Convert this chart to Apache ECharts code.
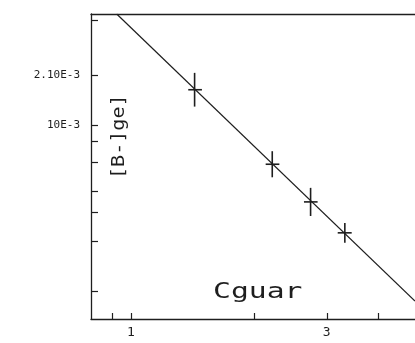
<!DOCTYPE html>
<html>
<head>
<meta charset="utf-8">
<script src="https://cdn.jsdelivr.net/npm/echarts@6/dist/echarts.min.js"></script>
<style>
  html, body { margin: 0; padding: 0; background: #fff; }
  #chart { width: 415px; height: 343px; }
</style>
</head>
<body>
<div id="chart"></div>
<script>
// measured points (Cguar vs [B-]ge)
const cguar = [1.43, 2.21, 2.74, 3.32];
const bge = [1.63e-3, 0.58e-3, 0.344e-3, 0.224e-3];
const cguarLow = [1.38, 2.13, 2.64, 3.19];
const cguarHigh = [1.49, 2.30, 2.85, 3.45];
const bgeLow = [1.29e-3, 0.484e-3, 0.283e-3, 0.195e-3];
const bgeHigh = [2.06e-3, 0.695e-3, 0.418e-3, 0.257e-3];

// fitted line end points
const fitX = [0.924, 4.92];
const fitY = [4.66e-3, 0.087e-3];

// ticks and labels
const xTicks = [0.9, 1, 2, 3, 4];
const xLabels = [1, 3];
const yTicks = [4.3e-3, 2e-3, 1e-3, 0.8e-3, 0.6e-3, 0.4e-3, 0.3e-3, 0.2e-3, 0.1e-3];
const yLabelValues = [2e-3, 1e-3];
const yLabelText = ['2.10E-3', '10E-3'];

const INK = '#1e1e1e';
const FONT = '"DejaVu Sans Mono", monospace';

const chart = echarts.init(document.getElementById('chart'), null, { renderer: 'canvas' });

const crossData = cguar.map(function (x, i) {
    return [x, bge[i], cguarLow[i], cguarHigh[i], bgeLow[i], bgeHigh[i]];
});

chart.setOption({
    animation: false,
    backgroundColor: '#fff',
    grid: { left: 91, top: 14, right: 0, bottom: 24 },
    xAxis: [{
        type: 'log',
        min: 0.8, max: 4.92,
        axisLine: { show: true, lineStyle: { color: INK, width: 1.3 } },
        axisTick: { show: true, inside: true, length: 6, customValues: xTicks, lineStyle: { color: INK, width: 1.2 } },
        minorTick: { show: false },
        splitLine: { show: false },
        axisLabel: {
            customValues: xLabels,
            color: INK, fontFamily: FONT, fontSize: 13, margin: 7,
            formatter: function (v) { return String(Math.round(v)); }
        }
    }, {
        // top frame line only
        type: 'log', position: 'top',
        min: 0.8, max: 4.92,
        axisLine: { show: true, lineStyle: { color: INK, width: 1.3 } },
        axisTick: { show: false },
        axisLabel: { show: false },
        splitLine: { show: false }
    }],
    yAxis: {
        type: 'log',
        min: 6.78e-5, max: 4.66e-3,
        axisLine: { show: true, lineStyle: { color: INK, width: 1.3 } },
        axisTick: { show: true, inside: true, length: 7, customValues: yTicks, lineStyle: { color: INK, width: 1.2 } },
        minorTick: { show: false },
        splitLine: { show: false },
        axisLabel: {
            customValues: yLabelValues,
            color: INK, fontFamily: FONT, fontSize: 11, margin: 11,
            formatter: function (v) {
                const i = yLabelValues.findIndex(function (t) { return Math.abs(t - v) / t < 1e-6; });
                return i >= 0 ? yLabelText[i] : '';
            }
        }
    },
    graphic: [
        {
            type: 'text', x: 213, y: 281, scaleX: 1.35,
            style: { text: 'Cguar', font: '22px ' + FONT, fill: INK }
        },
        {
            type: 'text', x: 111, y: 179, rotation: Math.PI / 2, scaleX: 1.18,
            style: { text: '[B-]ge]', font: '17px ' + FONT, fill: INK }
        }
    ],
    series: [
        {
            type: 'line',
            data: fitX.map(function (x, i) { return [x, fitY[i]]; }),
            symbol: 'none',
            lineStyle: { color: INK, width: 1.2 },
            clip: true,
            z: 2
        },
        {
            type: 'custom',
            data: crossData,
            encode: { x: 0, y: 1 },
            renderItem: function (params, api) {
                const x = api.value(0), y = api.value(1);
                const l = api.coord([api.value(2), y]);
                const r = api.coord([api.value(3), y]);
                const b = api.coord([x, api.value(4)]);
                const t = api.coord([x, api.value(5)]);
                const style = { stroke: INK, lineWidth: 1.6 };
                return {
                    type: 'group',
                    children: [
                        { type: 'line', shape: { x1: l[0], y1: l[1], x2: r[0], y2: r[1] }, style: style },
                        { type: 'line', shape: { x1: b[0], y1: b[1], x2: t[0], y2: t[1] }, style: style }
                    ]
                };
            },
            z: 3
        }
    ]
});
</script>
</body>
</html>
